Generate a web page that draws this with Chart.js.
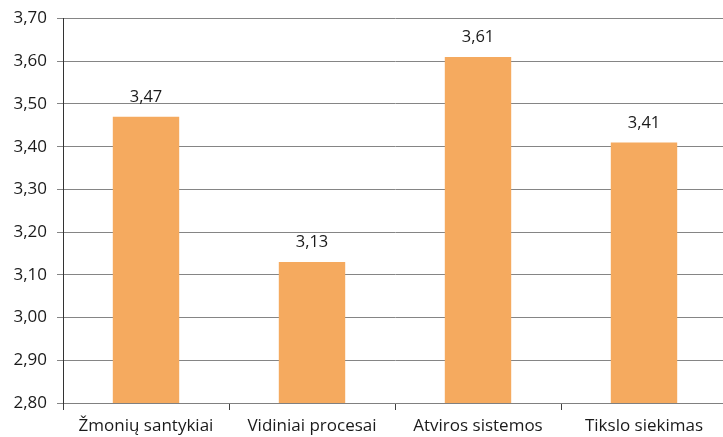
<!DOCTYPE html>
<html>
<head>
<meta charset="utf-8">
<script src="https://cdn.jsdelivr.net/npm/chart.js@4"></script>
<style>
  html, body { margin: 0; padding: 0; background: #fff; overflow: hidden; }
  #wrap { width: 727px; height: 437px; }
</style>
</head>
<body>
<div id="wrap"><canvas id="c"></canvas></div>
<script>
const categories = ['Žmonių santykiai', 'Vidiniai procesai', 'Atviros sistemos', 'Tikslo siekimas'];
const values = [3.47, 3.13, 3.61, 3.41];
const yMin = 2.8, yMax = 3.7, yStep = 0.1;

const fmt = v => v.toFixed(2).replace('.', ',');
const FONT = '"Open Sans", sans-serif';

const valueLabels = {
  id: 'valueLabels',
  afterDatasetsDraw(chart) {
    const ctx = chart.ctx;
    const meta = chart.getDatasetMeta(0);
    ctx.save();
    ctx.font = '16.5px ' + FONT;
    ctx.fillStyle = '#1a1a1a';
    ctx.textAlign = 'center';
    ctx.textBaseline = 'bottom';
    meta.data.forEach((bar, i) => {
      ctx.fillText(fmt(values[i]), bar.x, bar.y - 11);
    });
    ctx.restore();
  }
};

new Chart(document.getElementById('c'), {
  type: 'bar',
  data: {
    labels: categories,
    datasets: [{
      data: values,
      backgroundColor: '#F5AA5F',
      barPercentage: 0.8,
      categoryPercentage: 0.5
    }]
  },
  options: {
    responsive: true,
    maintainAspectRatio: false,
    animation: false,
    layout: { padding: { top: 17, left: 0, right: 0, bottom: 0 } },
    plugins: { legend: { display: false }, tooltip: { enabled: false } },
    scales: {
      x: {
        grid: { display: true, offset: true, drawOnChartArea: false, tickLength: 7, color: '#404040' },
        border: { display: true, color: '#808080' },
        ticks: { color: '#1a1a1a', font: { family: FONT, size: 17 }, padding: 6, maxRotation: 0 },
        afterFit(s) { s.height = 34; }
      },
      y: {
        min: yMin, max: yMax,
        grid: { color: '#858585', tickLength: 6 },
        border: { display: true, color: '#333' },
        ticks: {
          stepSize: yStep,
          color: '#1a1a1a',
          font: { family: FONT, size: 17, lineHeight: 1 },
          padding: 10,
          callback: v => fmt(v)
        },
        afterFit(s) { s.width = 63; }
      }
    }
  },
  plugins: [valueLabels]
});
</script>
</body>
</html>
